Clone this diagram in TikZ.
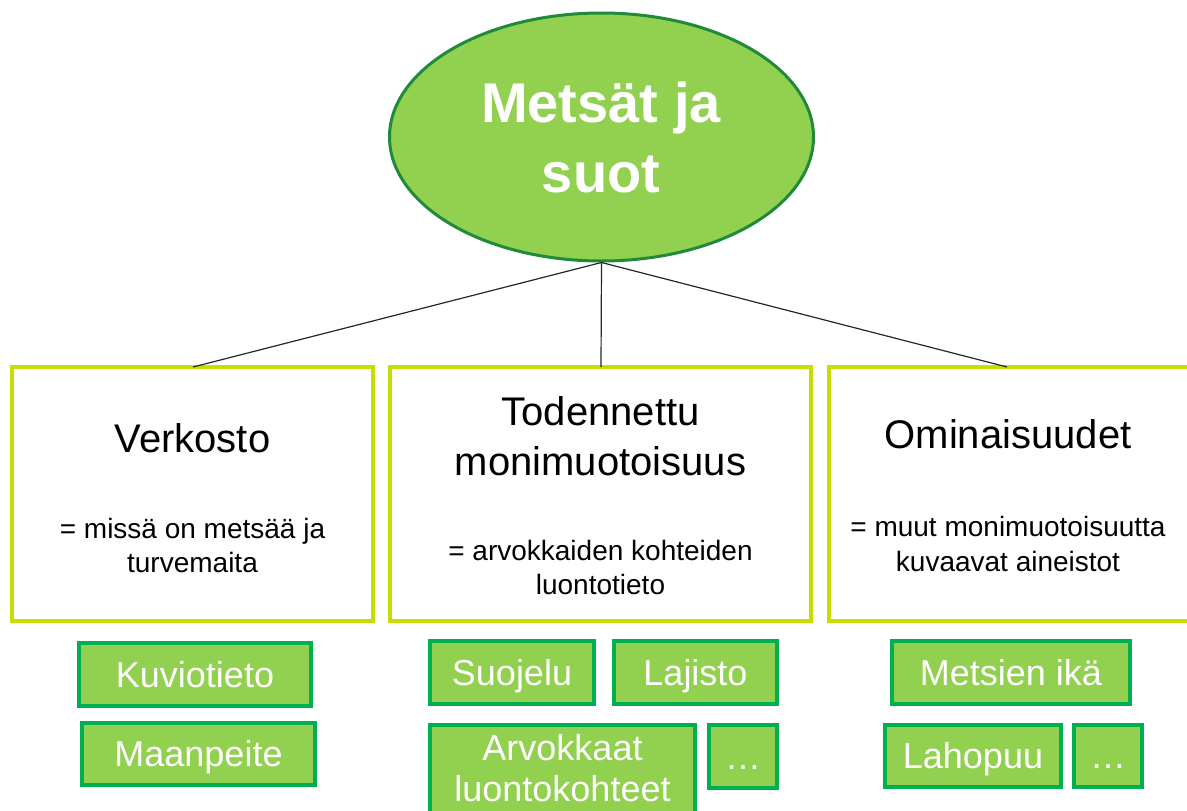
\documentclass[tikz,border=0pt]{standalone}
\usepackage{fontspec}
\setmainfont{Liberation Sans}
\usetikzlibrary{shapes.geometric}
\definecolor{ellfill}{HTML}{92D050}
\definecolor{elldraw}{HTML}{1F8A3A}
\definecolor{boxdraw}{HTML}{C8DE00}
\definecolor{tagdraw}{HTML}{00B050}
\tikzset{
  bigbox/.style={draw=boxdraw, line width=4pt, fill=white, rectangle, inner sep=0pt},
  tagbox/.style={draw=tagdraw, line width=4pt, fill=ellfill, rectangle, inner sep=0pt,
    text=white, font=\fontsize{36}{42}\selectfont, text height=25.8pt, text depth=0pt},
  tagtext/.style={text=white, font=\fontsize{36}{42}\selectfont, inner sep=0pt, anchor=base},
  headtext/.style={font=\fontsize{40}{48}\selectfont, inner sep=0pt, anchor=base},
  subtext/.style={font=\fontsize{28}{34}\selectfont, inner sep=0pt, anchor=base},
  titletext/.style={text=white, font=\bfseries\fontsize{56}{70}\selectfont, inner sep=0pt, anchor=base},
  link/.style={draw=black!85, line width=1.2pt}
}
\begin{document}
\begin{tikzpicture}[x=1pt,y=-1pt]
\useasboundingbox (0,0) rectangle (1187,811);
\node[ellipse, draw=elldraw, line width=3pt, fill=ellfill, minimum width=424pt, minimum height=248pt, inner sep=0pt] (root) at (601.5,137) {};
\node[bigbox, minimum width=361pt, minimum height=254pt] (verk) at (192.5,494) {};
\node[bigbox, minimum width=421pt, minimum height=254pt] (tode) at (600.5,494) {};
\node[bigbox, minimum width=361pt, minimum height=254pt] (omin) at (1009.5,494) {};
\coordinate (vtop) at (193,367);
\coordinate (ttop) at (601,367);
\coordinate (otop) at (1007,367);
\draw[link] (root.south) -- (vtop);
\draw[link] (root.south) -- (ttop);
\draw[link] (root.south) -- (otop);
% title
\node[titletext] (t1) at (601,122) {Metsät ja};
\node[titletext] (t2) at (601,192) {suot};
% box texts
\node[headtext] (vh) at (192.5,452) {Verkosto};
\node[subtext] (vs1) at (192.5,538) {= missä on metsää ja};
\node[subtext] (vs2) at (192.5,572) {turvemaita};
\node[headtext] (th1) at (600.5,425) {Todennettu};
\node[headtext] (th2) at (600.5,475) {monimuotoisuus};
\node[subtext] (ts1) at (600.5,560) {= arvokkaiden kohteiden};
\node[subtext] (ts2) at (600.5,594) {luontotieto};
\node[headtext] (oh) at (1008,448) {Ominaisuudet};
\node[subtext] (os1) at (1008,536) {= muut monimuotoisuutta};
\node[subtext] (os2) at (1008,571) {kuvaavat aineistot};
% tags
\node[tagbox, minimum width=232pt, minimum height=63pt] (kuv) at (195,674.5) {Kuviotieto};
\node[tagbox, minimum width=233pt, minimum height=62pt] (maa) at (198.5,754) {Maanpeite};
\node[tagbox, minimum width=164pt, minimum height=63pt] (suo) at (512,672.5) {Suojelu};
\node[tagbox, minimum width=163pt, minimum height=63pt] (laj) at (695.5,672.5) {Lajisto};
\node[tagbox, minimum width=265pt, minimum height=110pt] (arv) at (562.5,780) {};
\node[tagtext] (arv1) at (562.5,760) {Arvokkaat};
\node[tagtext] (arv2) at (562.5,801) {luontokohteet};
\node[tagbox, minimum width=68pt, minimum height=63pt] (dots1) at (743,756.5) {\dots};
\node[tagbox, minimum width=238pt, minimum height=63pt] (ika) at (1011,672.5) {Metsien ikä};
\node[tagbox, minimum width=176pt, minimum height=62pt] (lah) at (973,756) {Lahopuu};
\node[tagbox, minimum width=68pt, minimum height=62pt] (dots2) at (1108,756) {\dots};
\end{tikzpicture}
\end{document}
